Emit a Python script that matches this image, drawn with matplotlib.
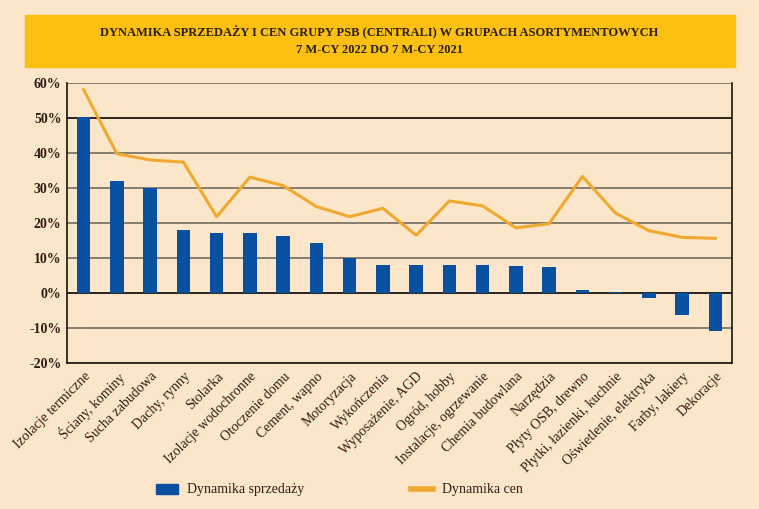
import matplotlib.pyplot as plt
import matplotlib.patches as mpatches
from matplotlib.lines import Line2D
import numpy as np

categories = ["Izolacje termiczne", "Ściany, kominy", "Sucha zabudowa", "Dachy, rynny",
              "Stolarka", "Izolacje wodochronne", "Otoczenie domu", "Cement, wapno",
              "Motoryzacja", "Wykończenia", "Wyposażenie, AGD", "Ogród, hobby",
              "Instalacje, ogrzewanie", "Chemia budowlana", "Narzędzia", "Płyty OSB, drewno",
              "Płytki, łazienki, kuchnie", "Oświetlenie, elektryka", "Farby, lakiery", "Dekoracje"]
sales = [50.4, 32.1, 30.1, 18.0, 17.1, 17.1, 16.4, 14.4, 10.0, 8.1,
         8.1, 8.0, 8.0, 7.8, 7.4, 0.9, 0.2, -1.5, -6.3, -10.9]
prices = [58.1, 39.8, 38.0, 37.4, 21.8, 33.1, 30.7, 24.7, 21.8, 24.2,
          16.5, 26.3, 24.9, 18.6, 19.8, 33.3, 22.8, 17.8, 15.9, 15.6]
yticks = [-20, -10, 0, 10, 20, 30, 40, 50, 60]

bg = "#fce6c9"
bar_color = "#0a50a0"
line_color = "#f0a92e"
title_bg = "#fcc013"
text_color = "#2a1f14"

plt.rcParams["font.family"] = ["Liberation Serif", "DejaVu Serif"]

fig = plt.figure(figsize=(7.59, 5.09), dpi=100, facecolor=bg)

# title box
fig.patches.append(mpatches.Rectangle((25 / 759, 1 - 67 / 509), 710 / 759, 52 / 509,
                                      transform=fig.transFigure, color=title_bg, zorder=0))
fig.text(0.5, 1 - 32 / 509, "DYNAMIKA SPRZEDAŻY I CEN GRUPY PSB (CENTRALI) W GRUPACH ASORTYMENTOWYCH",
         ha="center", va="center", fontsize=9, color=text_color, fontweight="bold")
fig.text(0.5, 1 - 50 / 509, "7 M-CY 2022 DO 7 M-CY 2021",
         ha="center", va="center", fontsize=9, color=text_color, fontweight="bold")

ax = fig.add_axes([67 / 759, 1 - 363 / 509, 665 / 759, 280 / 509])
ax.set_facecolor(bg)

x = np.arange(len(categories))
for t in yticks:
    c = "#1a1410" if t in (0, 50) else "#7d7468"
    ax.axhline(t, color=c, lw=1.3, zorder=1)
ax.bar(x, sales, width=0.4, color=bar_color, zorder=2)
ax.plot(x, prices, color=line_color, lw=2.2, zorder=3)

ax.set_xlim(-0.5, len(categories) - 0.5)
ax.set_ylim(-20, 60)
ax.set_yticks(yticks)
ax.set_yticklabels([f"{t}%" for t in yticks], fontsize=10, fontweight="bold", color=text_color)
ax.set_xticks(x)
ax.set_xticklabels(categories, rotation=45, ha="right", rotation_mode="anchor",
                   fontsize=10, color=text_color)
ax.tick_params(axis="both", length=0, pad=4)
ax.tick_params(axis="x", pad=5)
for s in ax.spines.values():
    s.set_color("#1a1410")
    s.set_linewidth(1.2)
ax.spines["top"].set_visible(False)

handles = [mpatches.Patch(color=bar_color, label="Dynamika sprzedaży"),
           Line2D([0], [0], color=line_color, lw=4, label="Dynamika cen")]
fig.legend(handles=handles, loc="center", bbox_to_anchor=(0.447, 1 - 490 / 509), ncol=2,
           frameon=False, fontsize=10, columnspacing=7.7, handlelength=1.6,
           handletextpad=0.6, labelcolor=text_color)

fig.savefig("out.png", dpi=100, facecolor=bg)
